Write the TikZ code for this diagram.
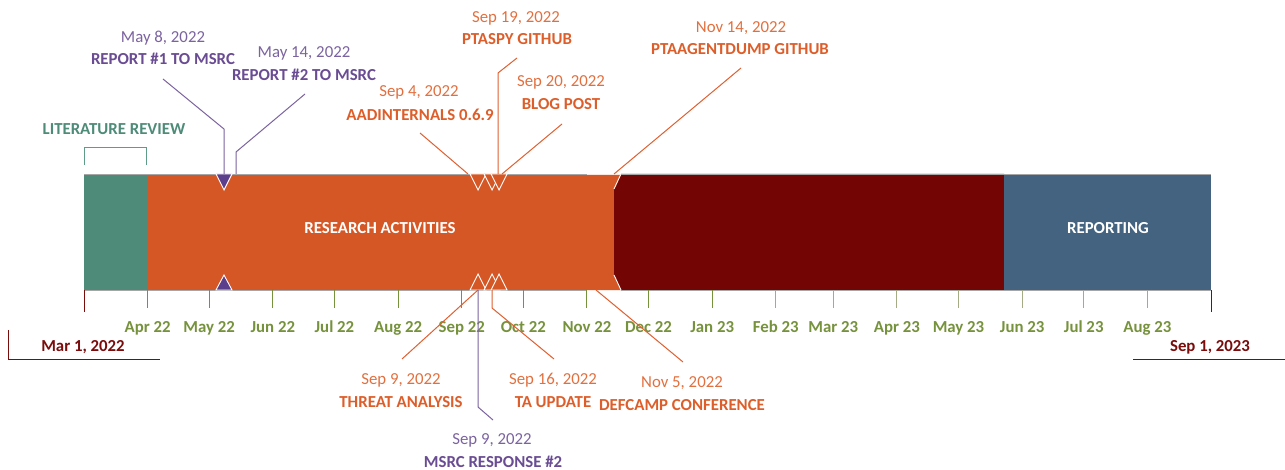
\documentclass[tikz,border=0pt]{standalone}
\usepackage{fontspec}
\setmainfont{Carlito}
\definecolor{lrgreen}{HTML}{4E8B78}
\definecolor{lrline}{HTML}{5E9C88}
\definecolor{raorange}{HTML}{D55726}
\definecolor{darkred}{HTML}{740505}
\definecolor{repblue}{HTML}{436380}
\definecolor{olive}{HTML}{76923C}
\definecolor{olivelight}{HTML}{A3AC84}
\definecolor{txtorange}{HTML}{DD5E2A}
\definecolor{datorange}{HTML}{E2703F}
\definecolor{leadorange}{HTML}{E06030}
\definecolor{txtpurple}{HTML}{6A4C93}
\definecolor{datpurple}{HTML}{7B63A0}
\definecolor{marred}{HTML}{7A0C0C}
\definecolor{trifill}{HTML}{5B3F8C}
\begin{document}
\begin{tikzpicture}[x=1pt,y=-1pt,
  datelbl/.style={anchor=base, inner sep=0, font=\fontsize{16.8}{18}\selectfont},
  boldlbl/.style={anchor=base, inner sep=0, font=\fontsize{16.8}{18}\selectfont\bfseries},
  monthlbl/.style={boldlbl, text=olive},
  barlbl/.style={boldlbl, text=white},
  leadp/.style={draw=datpurple, line width=1pt},
  leado/.style={draw=leadorange, line width=1pt},
  tickline/.style={line width=1pt},
  hollowtri/.style={fill=raorange, draw=white, line width=0.9pt, line join=miter},
  purpletri/.style={fill=trifill, draw=white, line width=0.9pt},
  endline/.style={draw=marred, line width=1pt}]
\useasboundingbox (0,0) rectangle (1285,470);
\fill[white] (0,0) rectangle (1285,470);

% bars
\fill[lrgreen] (84,174) rectangle (147,290);
\fill[raorange] (147,174) rectangle (621,290);
\fill[darkred] (621,174) -- (614,189) -- (614,275) -- (621,290) -- (1004,290) -- (1004,174) -- cycle;
\fill[repblue] (1004,174) rectangle (1211,290);
\draw[white, line width=0.9pt] (621,174) -- (614,189) (614,275) -- (621,290);
\draw[gray!70, line width=0.7pt] (84,174) -- (1211,174) (84,290) -- (1211,290);
\draw[white!85!raorange, line width=0.8pt] (587,174) -- (621,174) (587,290) -- (621,290);

\node[barlbl] (ra) at (380,234) {RESEARCH ACTIVITIES};
\node[barlbl] (rep) at (1108,234) {REPORTING};

% ticks and month labels
\foreach \d/\m [count=\i] in {31/Apr 22,61/May 22,92/Jun 22,122/Jul 22,153/Aug 22,184/Sep 22,214/Oct 22,245/Nov 22,275/Dec 22,306/Jan 23,337/Feb 23,365/Mar 23,396/Apr 23,426/May 23,457/Jun 23,487/Jul 23,518/Aug 23}{
  \pgfmathsetmacro{\xx}{84+2.05282*\d}
  \ifnum\d>306 \def\tc{olivelight}\else\def\tc{olive}\fi
  \coordinate (t\i a) at (\xx,290);
  \coordinate (t\i b) at (\xx,308);
  \draw[tickline, draw=\tc] (t\i a) -- (t\i b);
  \node[monthlbl] (m\i) at (\xx,333) {\m};
}

% start / end markers
\coordinate (sa) at (84,290); \coordinate (sb) at (84,312);
\coordinate (ea) at (1211,290); \coordinate (eb) at (1211,312);
\draw[endline] (sa) -- (sb);
\draw[endline] (ea) -- (eb);
\node[boldlbl, text=marred] (start) at (83,351) {Mar 1, 2022};
\node[boldlbl, text=marred] (end) at (1210,351) {Sep 1, 2023};
\coordinate (s1) at (8,330); \coordinate (s2) at (8,359); \coordinate (s3) at (160,359);
\draw[endline] (s1) -- (s2) -- (s3);
\coordinate (e1) at (1133,359); \coordinate (e2) at (1285,359);
\draw[endline] (e1) -- (e2);

% literature review bracket
\coordinate (b1) at (84,165); \coordinate (b2) at (84,148);
\coordinate (b3) at (146,148); \coordinate (b4) at (146,165);
\draw[draw=lrline, line width=1pt] (b1) -- (b2) -- (b3) -- (b4);
\node[boldlbl, text=lrgreen] (lit) at (114,135) {LITERATURE REVIEW};

% triangles
\draw[purpletri] (216,174) -- (232,174) -- (224,190) -- cycle;
\draw[purpletri] (216,290) -- (232,290) -- (224,275) -- cycle;
\foreach \tx in {478,492,499}{
  \draw[hollowtri] (\tx-8,174) -- (\tx+8,174) -- (\tx,190) -- cycle;
  \draw[hollowtri] (\tx-8,290) -- (\tx+8,290) -- (\tx,274) -- cycle;
}

% May 8
\coordinate (p1a) at (224,174); \coordinate (p1b) at (224,129); \coordinate (p1c) at (163,79);
\draw[leadp] (p1a) -- (p1b) -- (p1c);
\node[datelbl, text=datpurple] (p1d) at (163,43) {May 8, 2022};
\node[boldlbl, text=txtpurple] (p1t) at (163,65) {REPORT \#1 TO MSRC};
% May 14
\coordinate (p2a) at (236,174); \coordinate (p2b) at (236,152); \coordinate (p2c) at (305,94);
\draw[leadp] (p2a) -- (p2b) -- (p2c);
\node[datelbl, text=datpurple] (p2d) at (304,58) {May 14, 2022};
\node[boldlbl, text=txtpurple] (p2t) at (304,81) {REPORT \#2 TO MSRC};

% Sep 4
\coordinate (o1a) at (468,174); \coordinate (o1b) at (420,133);
\draw[leado] (o1a) -- (o1b);
\node[datelbl, text=datorange] (o1d) at (419,97) {Sep 4, 2022};
\node[boldlbl, text=txtorange] (o1t) at (420,120.5) {AADINTERNALS 0.6.9};
% Sep 19
\coordinate (o2a) at (498,174); \coordinate (o2b) at (498,73); \coordinate (o2c) at (517,58);
\draw[leado] (o2a) -- (o2b) -- (o2c);
\node[datelbl, text=datorange] (o2d) at (516,22.5) {Sep 19, 2022};
\node[boldlbl, text=txtorange] (o2t) at (517,44.5) {PTASPY GITHUB};
% Sep 20
\coordinate (o3a) at (502,174); \coordinate (o3b) at (562,124);
\draw[leado] (o3a) -- (o3b);
\node[datelbl, text=datorange] (o3d) at (561,87) {Sep 20, 2022};
\node[boldlbl, text=txtorange] (o3t) at (561,110) {BLOG POST};
% Nov 14
\coordinate (o4a) at (614,174); \coordinate (o4b) at (741,68);
\draw[leado] (o4a) -- (o4b);
\node[datelbl, text=datorange] (o4d) at (741,32.5) {Nov 14, 2022};
\node[boldlbl, text=txtorange] (o4t) at (740,54.5) {PTAAGENTDUMP GITHUB};

% Sep 9 threat analysis
\coordinate (u1a) at (478,290); \coordinate (u1b) at (402,359);
\draw[leado] (u1a) -- (u1b);
\node[datelbl, text=datorange] (u1d) at (401,384) {Sep 9, 2022};
\node[boldlbl, text=txtorange] (u1t) at (401,407) {THREAT ANALYSIS};
% Sep 9 MSRC response
\coordinate (u2a) at (478,290); \coordinate (u2b) at (478,407); \coordinate (u2c) at (493,420);
\draw[leadp] (u2a) -- (u2b) -- (u2c);
\node[datelbl, text=datpurple] (u2d) at (492,444) {Sep 9, 2022};
\node[boldlbl, text=txtpurple] (u2t) at (493,467) {MSRC RESPONSE \#2};
% Sep 16 TA update
\coordinate (u3a) at (492,290); \coordinate (u3b) at (492,308); \coordinate (u3c) at (554,359);
\draw[leado] (u3a) -- (u3b) -- (u3c);
\node[datelbl, text=datorange] (u3d) at (553,384) {Sep 16, 2022};
\node[boldlbl, text=txtorange] (u3t) at (553,407) {TA UPDATE};
% Nov 5
\coordinate (u4a) at (596,290); \coordinate (u4b) at (683,362);
\draw[leado] (u4a) -- (u4b);
\node[datelbl, text=datorange] (u4d) at (682,387) {Nov 5, 2022};
\node[boldlbl, text=txtorange] (u4t) at (682,410) {DEFCAMP CONFERENCE};
\end{tikzpicture}
\end{document}
